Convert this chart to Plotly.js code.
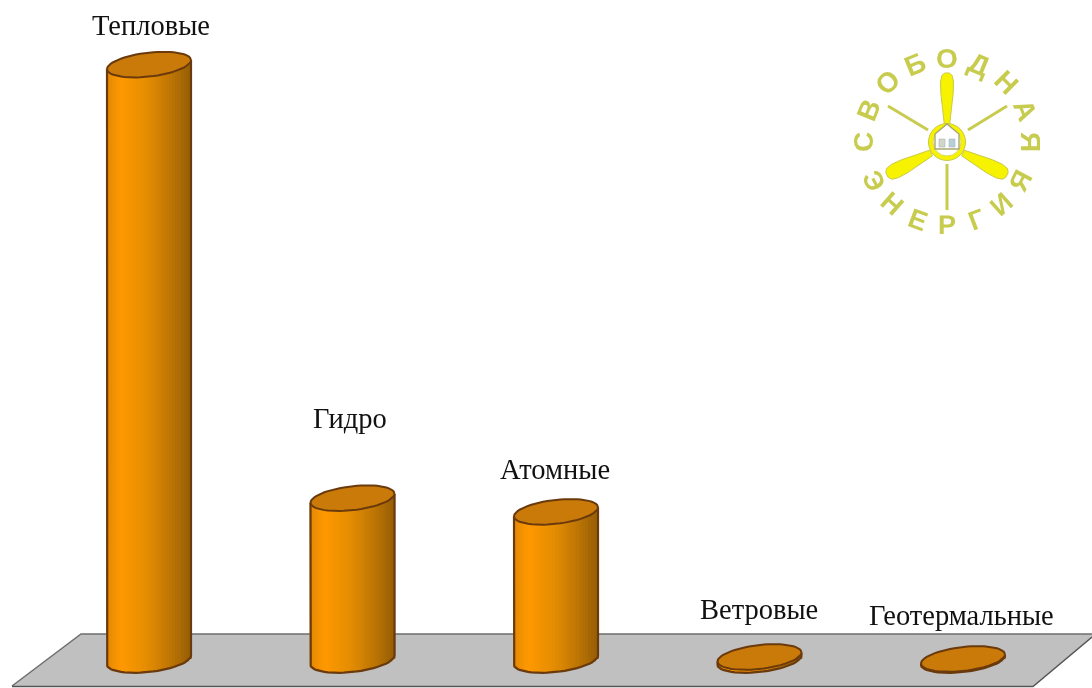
<!DOCTYPE html>
<html><head><meta charset="utf-8">
<script src="https://cdn.plot.ly/plotly-3.0.1.min.js"></script>
<style>html,body{margin:0;padding:0;background:#fff}#c{width:1092px;height:688px;filter:blur(0.5px)}</style>
</head><body><div id="c"></div>
<script>
const categories = ["Тепловые","Гидро","Атомные","Ветровые","Геотермальные"];
const shares = [65.5,17.8,16.3,0.33,0.11];
const logoTop = "СВОБОДНАЯ".split("");
const logoBottom = "ЭНЕРГИЯ".split("");

// axis calibration: one category step and one percent, in pixels
const W=1092,H=688,stepPx=203.5,x0Px=149,unitPx=9.09,y0Px=660;
const xr=[-x0Px/stepPx,(W-x0Px)/stepPx], yr=[(y0Px-H)/unitPx,y0Px/unitPx];
const dx=p=>(p-x0Px)/stepPx, dy=p=>(y0Px-p)/unitPx, px=p=>p/W, py=p=>1-p/H;

const a=42/stepPx,b=12/unitPx,r=4.5/unitPx;
const N=28;
const stops=[[0,[226,136,4]],[0.18,[255,153,0]],[0.5,[226,140,2]],[0.8,[184,114,4]],[1,[150,94,6]]];
function shade(t){for(let i=1;i<stops.length;i++){if(t<=stops[i][0]){const s=stops[i-1],e=stops[i],f=(t-s[0])/(e[0]-s[0]);
  return 'rgb('+s[1].map((c,j)=>Math.round(c+(e[1][j]-c)*f)).join(',')+')';}}return 'rgb(150,94,6)';}

const bx=[],by=[],bb=[],bw=[],bc=[];
categories.forEach((c,i)=>{for(let k=0;k<N;k++){const u=-1+(2*k+1)/N;const low=-b*Math.sqrt(1-u*u)+r*u;
  bx.push(i+a*u);bb.push(low);by.push(shares[i]+r*u-low);bw.push(2*a/N*1.5);bc.push(shade((u+1)/2));}});

const traces=[{type:'bar',x:bx,y:by,base:bb,width:bw,marker:{color:bc,line:{width:0}},hoverinfo:'skip',showlegend:false}];
const edge='#6a3a0c';
categories.forEach((c,i)=>{
  const ox=[],oy=[];
  ox.push(i-a);oy.push(shares[i]-r);
  for(let d=180;d<=360;d+=6){const t=d*Math.PI/180;ox.push(i+a*Math.cos(t));oy.push(b*Math.sin(t)+r*Math.cos(t));}
  ox.push(i+a);oy.push(shares[i]+r);
  traces.push({type:'scatter',mode:'lines',x:ox,y:oy,line:{color:edge,width:2.2},hoverinfo:'skip',showlegend:false});
  const ex=[],ey=[];
  for(let d=0;d<=360;d+=6){const t=d*Math.PI/180;ex.push(i+a*Math.cos(t));ey.push(shares[i]+b*Math.sin(t)+r*Math.cos(t));}
  traces.push({type:'scatter',mode:'lines',x:ex,y:ey,fill:'toself',fillcolor:'#c97a08',line:{color:edge,width:2},hoverinfo:'skip',showlegend:false});
});

// label anchors in pixels
const labelPx=[[151,25],[350,418],[555,469],[759,609],[961,615]];
const annotations=categories.map((c,i)=>({text:c,x:dx(labelPx[i][0]),y:dy(labelPx[i][1]),xref:'x',yref:'y',showarrow:false,
  font:{family:'Liberation Serif',size:28.5,color:'#111'},xanchor:'center',yanchor:'middle'}));

// logo
const cx=947,cy=142,olive='#c8cc4e';
logoTop.forEach((l,i)=>{const ang=-90+22.5*i,t=ang*Math.PI/180,R=84;
  annotations.push({text:l,x:px(cx+R*Math.sin(t)),y:py(cy-R*Math.cos(t)),xref:'paper',yref:'paper',showarrow:false,textangle:ang,
    font:{family:'Liberation Sans',size:28,color:olive,weight:700},xanchor:'center',yanchor:'middle'});});
logoBottom.forEach((l,i)=>{const ang=62-20.7*i,t=ang*Math.PI/180,R=83;
  annotations.push({text:l,x:px(cx-R*Math.sin(t)),y:py(cy+R*Math.cos(t)),xref:'paper',yref:'paper',showarrow:false,textangle:ang,
    font:{family:'Liberation Sans',size:27,color:olive,weight:700},xanchor:'center',yanchor:'middle'});});

const P=(pts,close)=>'M'+pts.map(p=>px(p[0])+' '+py(p[1])).join('L')+(close?'Z':'');
function blade(x1,y1,x2,y2,w){const L=Math.hypot(x2-x1,y2-y1),ux=(x2-x1)/L,uy=(y2-y1)/L,nx=-uy,ny=ux,pts=[];
  const prof=[[0,.42],[.3,.68],[.6,.95],[.82,1],[.95,.8],[1,.35]];
  prof.forEach(p=>pts.push([x1+ux*L*p[0]+nx*w*p[1],y1+uy*L*p[0]+ny*w*p[1]]));
  prof.slice().reverse().forEach(p=>pts.push([x1+ux*L*p[0]-nx*w*p[1],y1+uy*L*p[0]-ny*w*p[1]]));
  return {type:'path',xref:'paper',yref:'paper',path:P(pts,true),fillcolor:'#f7f200',line:{color:'#c9c94a',width:1},layer:'above'};}
function seg(x1,y1,x2,y2,w,c){return {type:'path',xref:'paper',yref:'paper',path:P([[x1,y1],[x2,y2]]),line:{color:c,width:w},layer:'above'};}
function circ(x,y,rad,fill,lc,lw){return {type:'circle',xref:'paper',yref:'paper',x0:px(x-rad),x1:px(x+rad),y0:py(y+rad),y1:py(y-rad),fillcolor:fill,line:{color:lc,width:lw},layer:'above'};}

const shapes=[
 {type:'path',xref:'paper',yref:'paper',path:P([[81,634],[1095,634],[1033,686],[12,686]],true),fillcolor:'#c0c0c0',line:{width:0},layer:'below'},
 {type:'path',xref:'paper',yref:'paper',path:P([[12,686],[81,634],[1092,634]]),line:{color:'#6e6e6e',width:1.5},layer:'below'},
 {type:'path',xref:'paper',yref:'paper',path:P([[12,686.5],[1033,686.5],[1092,637]]),line:{color:'#555',width:1.5},layer:'below'},
 seg(888,106,928,130,3,olive),seg(1007,106,968,130,3,olive),seg(947,164,947,210,3,olive),
 blade(947,124,947,73,6.5),blade(931,153,887,175,7.5),blade(963,153,1007,175,7.5),
 circ(947,142,18.5,'#f7f200','#c9c94a',1),circ(947,142,14,'#ffffff','#d8d860',1),
 {type:'path',xref:'paper',yref:'paper',path:P([[935,134],[947,124],[959,134],[959,149],[935,149]],true),fillcolor:'#ffffff',line:{color:'#a8a870',width:1.4},layer:'above'},
 {type:'rect',xref:'paper',yref:'paper',x0:px(939),x1:px(945),y0:py(147),y1:py(139),fillcolor:'#cfd8c4',line:{color:'#9ab',width:.5},layer:'above'},
 {type:'rect',xref:'paper',yref:'paper',x0:px(949),x1:px(955),y0:py(147),y1:py(139),fillcolor:'#b9cfd6',line:{color:'#9ab',width:.5},layer:'above'}
];

Plotly.newPlot('c',traces,{
  width:W,height:H,margin:{l:0,r:0,t:0,b:0},paper_bgcolor:'#fff',plot_bgcolor:'rgba(0,0,0,0)',
  barmode:'overlay',showlegend:false,
  xaxis:{type:'linear',range:xr,visible:false,fixedrange:true},
  yaxis:{type:'linear',range:yr,visible:false,fixedrange:true},
  annotations,shapes
},{displayModeBar:false,staticPlot:true});
</script></body></html>
